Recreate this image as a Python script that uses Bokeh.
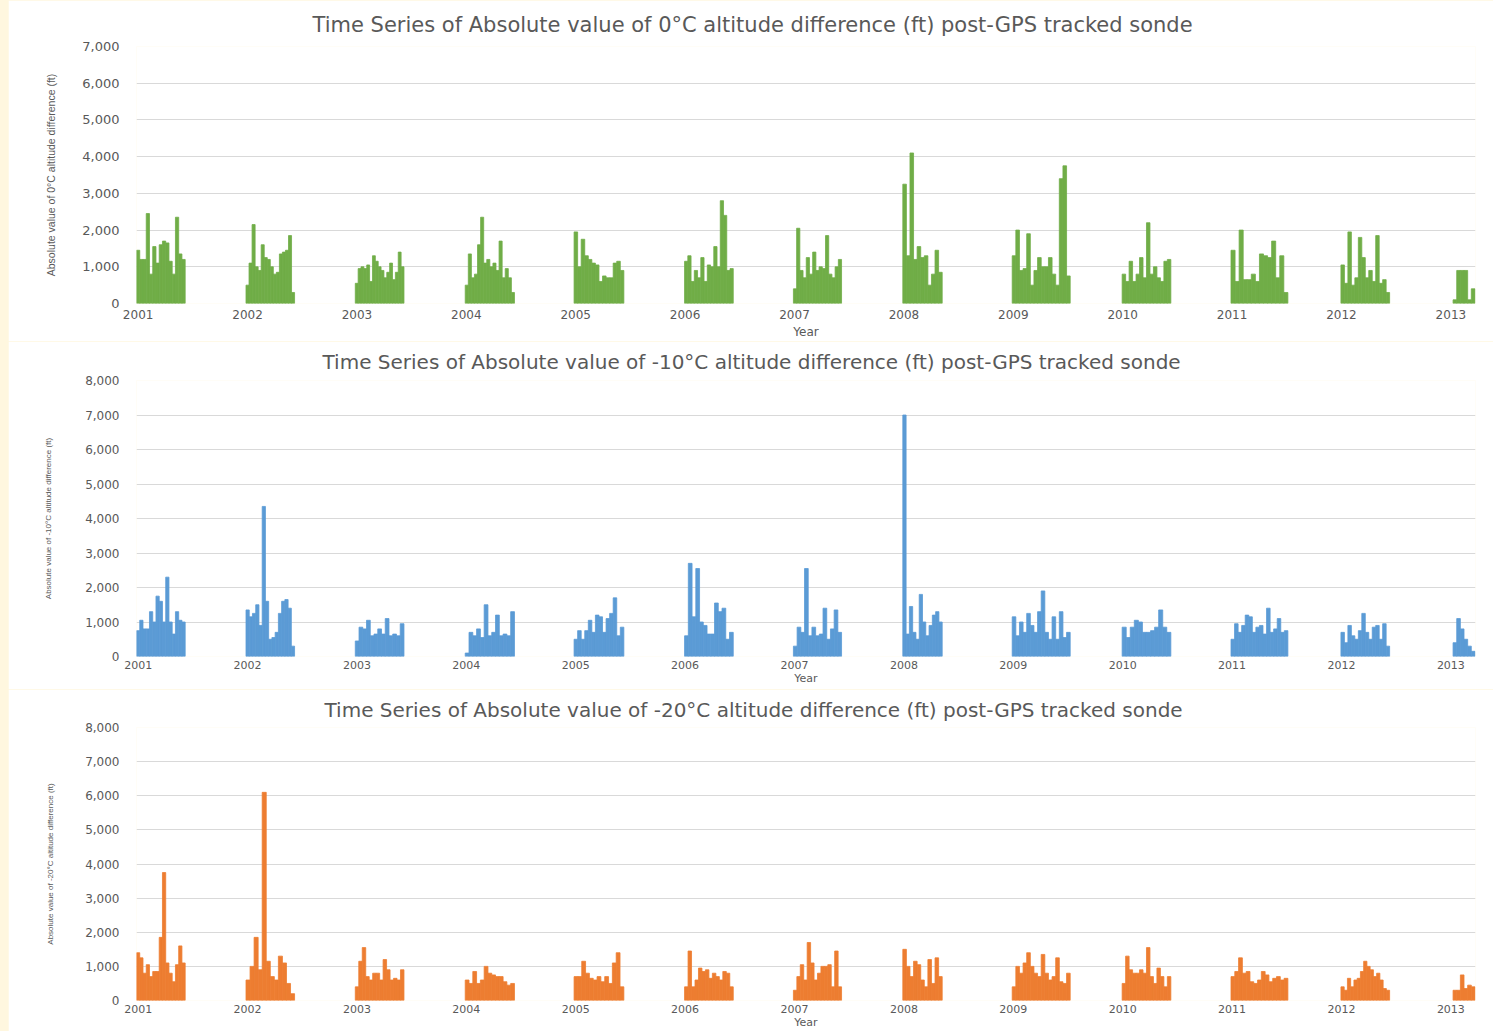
from bokeh.plotting import figure
from bokeh.layouts import column
from bokeh.models import NumeralTickFormatter, FixedTicker, Range1d, ColumnDataSource
from bokeh.embed import file_html
from bokeh.resources import INLINE

# ---------------- data ----------------
years = list(range(2001, 2014))
# first / last sounding of each season (decimal year)
cluster_start = [2000.985, 2001.986, 2002.985, 2003.99, 2004.985, 2005.995, 2006.99,
                 2007.99, 2008.99, 2009.995, 2010.99, 2011.995, 2013.02]
cluster_end = [2001.43, 2002.43, 2003.43, 2004.44, 2005.44, 2006.44, 2007.43,
               2008.35, 2009.52, 2010.44, 2011.51, 2012.44, 2013.22]

# |0 C altitude difference| (ft), envelope per season
t0_values = [
    [1450, 1200, 1200, 2450, 800, 1550, 1100, 1600, 1700, 1650, 1150, 800, 2350, 1350, 1200],
    [500, 1100, 2150, 1000, 900, 1600, 1250, 1200, 1000, 800, 850, 1350, 1400, 1450, 1850, 300],
    [550, 950, 1000, 950, 1050, 600, 1300, 1150, 1000, 900, 700, 850, 1100, 650, 850, 1400, 1000],
    [500, 1350, 700, 800, 1600, 2350, 1100, 1200, 1000, 1100, 900, 1700, 700, 950, 700, 300],
    [1950, 1000, 1750, 1300, 1200, 1100, 1050, 600, 750, 700, 700, 1100, 1150, 900],
    [1150, 1300, 600, 900, 700, 1250, 600, 1050, 1000, 1550, 1000, 2800, 2400, 900, 950],
    [400, 2050, 900, 700, 1250, 800, 1400, 900, 1000, 950, 1850, 800, 700, 1000, 1200],
    [3250, 1300, 4100, 1200, 1550, 1250, 1300, 500, 800, 1450, 850],
    [1300, 2000, 900, 950, 1900, 500, 900, 1250, 1000, 1000, 1250, 800, 500, 3400, 3750, 750],
    [800, 600, 1150, 600, 800, 1250, 700, 2200, 800, 1000, 700, 600, 1150, 1200],
    [1450, 600, 2000, 650, 650, 800, 600, 1350, 1300, 1250, 1700, 700, 1300, 300],
    [1050, 550, 1950, 500, 700, 1800, 1250, 700, 900, 600, 1850, 550, 650, 300],
    [100, 900, 900, 900, 100, 400],
]

# |-10 C altitude difference| (ft)
t10_values = [
    [750, 1050, 800, 800, 1300, 1000, 1750, 1600, 1000, 2300, 1000, 650, 1300, 1050, 1000],
    [1350, 1150, 1250, 1500, 900, 4350, 1600, 500, 550, 700, 1250, 1600, 1650, 1400, 300],
    [450, 850, 800, 1050, 600, 650, 800, 650, 1100, 600, 650, 600, 950],
    [100, 700, 600, 800, 550, 1500, 600, 700, 1200, 600, 650, 600, 1300],
    [500, 750, 500, 750, 1050, 700, 1200, 1150, 700, 1100, 1250, 1700, 600, 850],
    [600, 2700, 1150, 2550, 1000, 900, 650, 650, 1550, 1300, 1400, 500, 700],
    [300, 850, 700, 2550, 600, 850, 600, 650, 1400, 500, 800, 1350, 700],
    [7000, 650, 1450, 700, 500, 1800, 1000, 600, 900, 1200, 1300, 1000],
    [1150, 600, 1000, 700, 1250, 900, 700, 1300, 1900, 700, 500, 1150, 500, 1300, 550, 700],
    [850, 550, 850, 1050, 1000, 700, 700, 750, 850, 1350, 850, 700],
    [500, 950, 700, 900, 1200, 1150, 700, 850, 900, 650, 1400, 700, 800, 1100, 700, 750],
    [700, 400, 900, 600, 500, 750, 1250, 700, 500, 850, 900, 500, 950, 300],
    [400, 1100, 800, 500, 300, 150],
]

# |-20 C altitude difference| (ft)
t20_values = [
    [1400, 1250, 800, 1050, 700, 850, 850, 1850, 3750, 1100, 800, 550, 1050, 1600, 1100],
    [600, 1000, 1850, 900, 6100, 1150, 700, 600, 1300, 1100, 500, 200],
    [400, 1150, 1550, 700, 600, 800, 800, 600, 1200, 900, 600, 650, 600, 900],
    [600, 500, 850, 500, 600, 1000, 800, 750, 700, 700, 550, 450, 500],
    [700, 700, 1150, 800, 650, 600, 700, 550, 700, 500, 1100, 1400, 400],
    [400, 1450, 400, 600, 950, 850, 900, 650, 800, 700, 600, 850, 800, 400],
    [300, 700, 1050, 600, 1700, 1100, 600, 800, 1000, 1000, 1050, 400, 1450, 400],
    [1500, 1000, 700, 1150, 1050, 600, 400, 1200, 500, 1250, 700],
    [400, 1000, 800, 1100, 1400, 1000, 800, 700, 1350, 800, 600, 700, 1250, 550, 500, 800],
    [500, 1300, 900, 800, 800, 900, 800, 1550, 700, 500, 950, 700, 400, 700],
    [700, 850, 1250, 800, 850, 550, 500, 600, 850, 750, 550, 650, 700, 600, 650],
    [400, 300, 650, 400, 600, 650, 850, 1150, 1000, 900, 700, 800, 600, 350, 300],
    [300, 300, 750, 350, 450, 400],
]

titles = [
    "Time Series of Absolute value of 0°C altitude difference (ft) post-GPS tracked sonde",
    "Time Series of Absolute value of -10°C altitude difference (ft) post-GPS tracked sonde",
    "Time Series of Absolute value of -20°C altitude difference (ft) post-GPS tracked sonde",
]
ylabels = [
    "Absolute value of 0°C altitude difference (ft)",
    "Absolute value of -10°C altitude difference (ft)",
    "Absolute value of -20°C altitude difference (ft)",
]
colors = ["#70AD47", "#5B9BD5", "#ED7D31"]
ymaxes = [7000, 8000, 8000]

TXT = "#595959"


def build_source(values):
    xs, ws, tops = [], [], []
    for s, e, vals in zip(cluster_start, cluster_end, values):
        w = (e - s) / len(vals)
        for i, v in enumerate(vals):
            xs.append(s + (i + 0.5) * w)
            ws.append(w)
            tops.append(v)
    return ColumnDataSource(dict(x=xs, w=ws, top=tops))


def make_panel(k, height, b_top, b_bottom, b_left, b_right, t_size, t_offset, t_standoff,
               ytick_size, xtick_size, ylab_size, ylab_standoff, x_standoff, xlab_standoff, xlab_size):
    p = figure(width=1485, height=height,
               x_range=Range1d(2000.985, 2013.225), y_range=Range1d(0, ymaxes[k]),
               output_backend="svg", toolbar_location=None,
               min_border_top=b_top, min_border_bottom=b_bottom,
               min_border_left=b_left, min_border_right=b_right,
               border_fill_color="white", background_fill_color="white")
    p.margin = (0, 0, 0, 8)
    p.vbar(x="x", width="w", top="top", bottom=0,
           source=build_source([t0_values, t10_values, t20_values][k]),
           fill_color=colors[k], line_color=colors[k], line_width=0.8)

    p.title.text = titles[k]
    p.title.align = "left"
    p.title.offset = t_offset
    p.title.standoff = t_standoff
    p.title.text_font = "DejaVu Sans"
    p.title.text_font_size = t_size
    p.title.text_font_style = "normal"
    p.title.text_color = TXT

    p.outline_line_color = None
    p.xgrid.grid_line_color = None
    p.ygrid.grid_line_color = "#D9D9D9"
    p.ygrid.grid_line_width = 1

    p.xaxis.ticker = FixedTicker(ticks=years)
    p.yaxis.ticker = FixedTicker(ticks=list(range(0, ymaxes[k] + 1, 1000)))
    p.yaxis.formatter = NumeralTickFormatter(format="0,0")
    for ax in (p.xaxis, p.yaxis):
        ax.axis_line_color = None
        ax.major_tick_line_color = None
        ax.minor_tick_line_color = None
        ax.major_tick_out = 0
        ax.major_label_text_font = "DejaVu Sans"
        ax.major_label_text_color = TXT
        ax.axis_label_text_font_style = "normal"
        ax.axis_label_text_color = TXT
    p.yaxis.major_label_text_font_size = ytick_size
    p.xaxis.major_label_text_font_size = xtick_size
    p.yaxis.major_label_standoff = 17
    p.xaxis.major_label_standoff = x_standoff

    p.xaxis.axis_label = "Year"
    p.xaxis.axis_label_text_font = "DejaVu Sans"
    p.xaxis.axis_label_text_font_size = xlab_size
    p.xaxis.axis_label_standoff = xlab_standoff

    p.yaxis.axis_label = ylabels[k]
    p.yaxis.axis_label_text_font = "Liberation Sans"
    p.yaxis.axis_label_text_font_size = ylab_size
    p.yaxis.axis_label_standoff = ylab_standoff
    return p


p1 = make_panel(0, 341, 46, 37, 126, 15, "21px", 176, 20,
                "13px", "12px", "10.5px", 22, 6, 3, "12px")
p2 = make_panel(1, 348, 38, 33, 128, 13, "20px", 186, 13,
                "12px", "11px", "8px", 29, 4, 0, "11px")
p3 = make_panel(2, 342, 37, 30, 123, 18, "20px", 188, 12,
                "12px", "11px", "8px", 27, 4, 0, "11px")

layout = column(p1, p2, p3, styles={"background-color": "#FFF7DF"})
open("out.html", "w").write(file_html(layout, INLINE))
